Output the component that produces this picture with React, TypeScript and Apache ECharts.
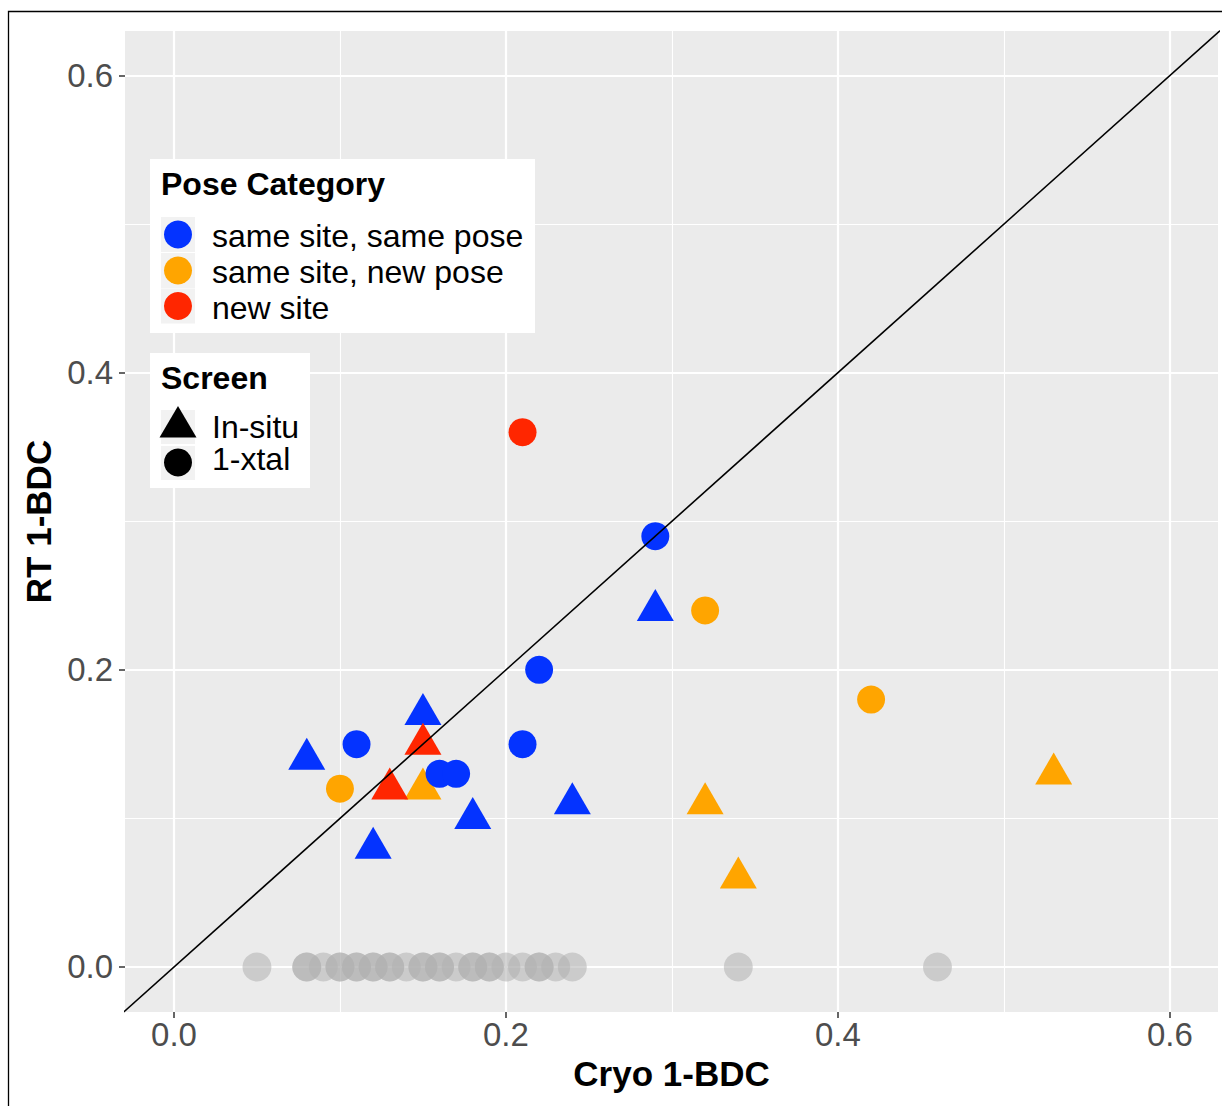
import React, { useEffect, useRef } from "react";
import * as echarts from "echarts";

// ---- data (Cryo 1-BDC, RT 1-BDC) ----
const sameSamePoseXtal = [[0.11, 0.15], [0.16, 0.13], [0.17, 0.13], [0.21, 0.15], [0.22, 0.20], [0.29, 0.29]];
const sameNewPoseXtal = [[0.10, 0.12], [0.32, 0.24], [0.42, 0.18]];
const newSiteXtal = [[0.21, 0.36]];
const sameSamePoseInsitu = [[0.08, 0.14], [0.12, 0.08], [0.15, 0.17], [0.18, 0.10], [0.24, 0.11], [0.29, 0.24]];
const sameNewPoseInsitu = [[0.15, 0.12], [0.32, 0.11], [0.34, 0.06], [0.53, 0.13]];
const newSiteInsitu = [[0.13, 0.12], [0.15, 0.15]];
const notObservedRT = [
  [0.05, 0], [0.08, 0], [0.08, 0], [0.09, 0], [0.10, 0], [0.10, 0], [0.11, 0], [0.11, 0],
  [0.12, 0], [0.12, 0], [0.13, 0], [0.13, 0], [0.14, 0], [0.15, 0], [0.15, 0], [0.16, 0],
  [0.16, 0], [0.17, 0], [0.18, 0], [0.18, 0], [0.19, 0], [0.19, 0], [0.20, 0], [0.21, 0],
  [0.22, 0], [0.22, 0], [0.23, 0], [0.24, 0], [0.34, 0], [0.46, 0],
];
const identityLine = [[-0.05, -0.05], [0.7, 0.7]];
const majorTicks = [0, 0.2, 0.4, 0.6];
const minorTicks = [0.1, 0.3, 0.5];
const poseCategories = ["same site, same pose", "same site, new pose", "new site"];
const screenCategories = ["In-situ", "1-xtal"];

const BLUE = "#0433ff";
const ORANGE = "#ffa500";
const RED = "#ff2600";
const FONT = "'Liberation Sans', Arial, Helvetica, sans-serif";

export default function App() {
  const ref = useRef<HTMLDivElement>(null);
  useEffect(() => {
    if (!ref.current) return;
    const chart = echarts.init(ref.current, undefined, { renderer: "svg" });

    const gridLines: any[] = [];
    majorTicks.forEach((v) => {
      gridLines.push({ xAxis: v, lineStyle: { color: "#ffffff", width: 2.2, type: "solid" } });
      gridLines.push({ yAxis: v, lineStyle: { color: "#ffffff", width: 2.2, type: "solid" } });
    });
    minorTicks.forEach((v) => {
      gridLines.push({ xAxis: v, lineStyle: { color: "#ffffff", width: 1.1, type: "solid" } });
      gridLines.push({ yAxis: v, lineStyle: { color: "#ffffff", width: 1.1, type: "solid" } });
    });

    const circle = (name: string, data: number[][], color: string) => ({
      name,
      type: "scatter",
      data,
      symbol: "circle",
      symbolSize: 28,
      itemStyle: { color, opacity: 1 },
      z: 4,
    });
    const tri = (name: string, data: number[][], color: string) => ({
      name,
      type: "scatter",
      data,
      symbol: "triangle",
      symbolSize: [37, 32],
      symbolOffset: [0, -5.3],
      itemStyle: { color, opacity: 1 },
      z: 3,
    });

    const axisCommon = {
      type: "value",
      axisLine: { show: false, onZero: false },
      splitLine: { show: false },
      axisTick: {
        show: true,
        customValues: majorTicks,
        length: 6,
        lineStyle: { color: "#333333", width: 1.5 },
      },
      nameLocation: "middle",
      nameTextStyle: { fontFamily: FONT, fontSize: 35, fontWeight: "bold", color: "#000000" },
    };

    const keyY1 = [234.5, 270.5, 306];
    const poseColors = [BLUE, ORANGE, RED];
    const graphic: any[] = [
      {
        type: "rect",
        shape: { x: 8.5, y: 11.5, width: 1400, height: 1400 },
        style: { fill: "none", stroke: "#000000", lineWidth: 1.3 },
        silent: true,
        z: 100,
      },
      { type: "rect", shape: { x: 150, y: 159, width: 385, height: 174 }, style: { fill: "#ffffff" }, z: 50 },
      {
        type: "text",
        x: 161,
        y: 184,
        style: { text: "Pose Category", fontFamily: FONT, fontSize: 32, fontWeight: "bold", fill: "#000000", textAlign: "left", textVerticalAlign: "middle", verticalAlign: "middle" },
        z: 51,
      },
      { type: "rect", shape: { x: 150, y: 353, width: 160, height: 135 }, style: { fill: "#ffffff" }, z: 50 },
      {
        type: "text",
        x: 161,
        y: 378,
        style: { text: "Screen", fontFamily: FONT, fontSize: 32, fontWeight: "bold", fill: "#000000", textAlign: "left", textVerticalAlign: "middle", verticalAlign: "middle" },
        z: 51,
      },
    ];
    poseCategories.forEach((label, i) => {
      graphic.push({ type: "rect", shape: { x: 161, y: keyY1[i] - 17.5, width: 34, height: 35 }, style: { fill: "#f2f2f2" }, z: 51 });
      graphic.push({ type: "circle", shape: { cx: 178, cy: keyY1[i], r: 14 }, style: { fill: poseColors[i] }, z: 52 });
      graphic.push({
        type: "text",
        x: 212,
        y: keyY1[i] + 1.5,
        style: { text: label, fontFamily: FONT, fontSize: 32, fill: "#000000", textAlign: "left", textVerticalAlign: "middle", verticalAlign: "middle" },
        z: 52,
      });
    });
    const keyY2 = [427, 462];
    graphic.push({ type: "rect", shape: { x: 161, y: 410, width: 34, height: 34 }, style: { fill: "#f2f2f2" }, z: 51 });
    graphic.push({ type: "rect", shape: { x: 161, y: 446, width: 34, height: 34 }, style: { fill: "#f2f2f2" }, z: 51 });
    graphic.push({
      type: "polygon",
      shape: { points: [[178, 406], [196.5, 437.5], [159.5, 437.5]] },
      style: { fill: "#000000" },
      z: 52,
    });
    graphic.push({ type: "circle", shape: { cx: 178, cy: 462.5, r: 14 }, style: { fill: "#000000" }, z: 52 });
    screenCategories.forEach((label, i) => {
      graphic.push({
        type: "text",
        x: 212,
        y: keyY2[i] - (i === 0 ? 0.5 : 3),
        style: { text: label, fontFamily: FONT, fontSize: 32, fill: "#000000", textAlign: "left", textVerticalAlign: "middle", verticalAlign: "middle" },
        z: 52,
      });
    });

    chart.setOption({
      animation: false,
      backgroundColor: "#ffffff",
      textStyle: { fontFamily: FONT },
      grid: {
        left: 125,
        right: 4,
        top: 31,
        bottom: 94,
        show: true,
        backgroundColor: "#ebebeb",
        borderWidth: 0,
        containLabel: false,
      },
      xAxis: {
        ...axisCommon,
        min: -0.0295,
        max: 0.629,
        name: "Cryo 1-BDC",
        nameGap: 41,
        axisLabel: {
          customValues: majorTicks,
          formatter: (v: number) => v.toFixed(1),
          fontFamily: FONT,
          fontSize: 33,
          color: "#4d4d4d",
          margin: 6,
        },
      },
      yAxis: {
        ...axisCommon,
        min: -0.0303,
        max: 0.63,
        name: "RT 1-BDC",
        nameGap: 68,
        axisLabel: {
          customValues: majorTicks,
          formatter: (v: number) => v.toFixed(1),
          fontFamily: FONT,
          fontSize: 33,
          color: "#4d4d4d",
          margin: 12,
        },
      },
      graphic,
      series: [
        {
          name: "grid",
          type: "line",
          data: identityLine,
          symbol: "none",
          lineStyle: { opacity: 0 },
          silent: true,
          z: 1,
          markLine: {
            silent: true,
            z: 1,
            zlevel: 0,
            symbol: ["none", "none"],
            label: { show: false },
            data: gridLines,
            animation: false,
          },
        },
        {
          name: "not observed",
          type: "scatter",
          data: notObservedRT,
          symbol: "circle",
          symbolSize: 29,
          itemStyle: { color: "#b0b0b0", opacity: 0.55 },
          z: 2,
        },
        tri("same site, same pose (In-situ)", sameSamePoseInsitu, BLUE),
        tri("same site, new pose (In-situ)", sameNewPoseInsitu, ORANGE),
        tri("new site (In-situ)", newSiteInsitu, RED),
        circle("same site, same pose (1-xtal)", sameSamePoseXtal, BLUE),
        circle("same site, new pose (1-xtal)", sameNewPoseXtal, ORANGE),
        circle("new site (1-xtal)", newSiteXtal, RED),
        {
          name: "identity",
          type: "line",
          data: identityLine,
          symbol: "none",
          clip: true,
          lineStyle: { color: "#000000", width: 1.6 },
          silent: true,
          z: 10,
        },
      ],
    });
    return () => chart.dispose();
  }, []);
  return (
    <div
      ref={ref}
      style={{ position: "fixed", left: 0, top: 0, width: 1222, height: 1106, background: "#ffffff" }}
    />
  );
}
